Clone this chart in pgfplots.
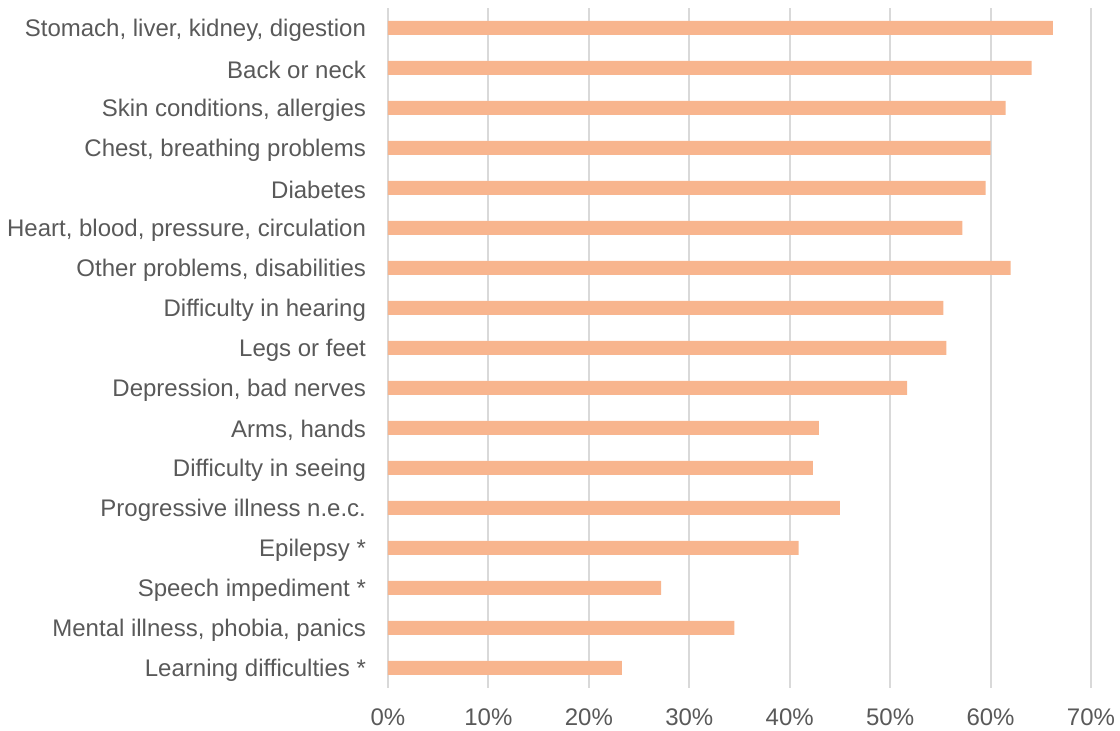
\documentclass[border=0pt]{standalone}
\usepackage{fontspec}
\setmainfont{Liberation Sans}
\usepackage{pgfplots}
\pgfplotsset{compat=1.18}
\definecolor{barfill}{HTML}{F8B58E}
\definecolor{gridgray}{HTML}{D9D9D9}
\definecolor{labelgray}{HTML}{595959}
\begin{document}
\begin{tikzpicture}
\path[use as bounding box] (-194pt,-21.5pt) rectangle (366pt,344pt);
\begin{axis}[
  at={(0,0)}, anchor=south west,
  scale only axis,
  width=351.5pt, height=340pt,
  xbar, bar width=7pt,
  xmin=0, xmax=70,
  ymin=-0.5, ymax=16.5,
  axis line style={draw=none},
  major tick length=0pt,
  xmajorgrids, grid style={gridgray, line width=1pt},
  xtick={0,10,...,70},
  xticklabels={0\%,10\%,20\%,30\%,40\%,50\%,60\%,70\%},
  ytick={0,...,16},
  yticklabels={
    {Learning difficulties *},
    {Mental illness, phobia, panics},
    {Speech impediment *},
    {Epilepsy *},
    {Progressive illness n.e.c.},
    {Difficulty in seeing},
    {Arms, hands},
    {Depression, bad nerves},
    {Legs or feet},
    {Difficulty in hearing},
    {Other problems, disabilities},
    {Heart, blood, pressure, circulation},
    {Diabetes},
    {Chest, breathing problems},
    {Skin conditions, allergies},
    {Back or neck},
    {Stomach, liver, kidney, digestion}},
  ticklabel style={font=\fontsize{12}{14}\selectfont, text=labelgray},
  xticklabel style={yshift=-7pt},
  yticklabel style={xshift=-7.5pt, yshift=-1pt},
  clip=false,
]
\addplot[fill=barfill, draw=none] coordinates {
  (23.3,0)
  (34.5,1)
  (27.2,2)
  (40.9,3)
  (45.0,4)
  (42.3,5)
  (42.9,6)
  (51.7,7)
  (55.6,8)
  (55.3,9)
  (62.0,10)
  (57.2,11)
  (59.5,12)
  (60.0,13)
  (61.5,14)
  (64.1,15)
  (66.2,16)
};
\end{axis}
\end{tikzpicture}
\end{document}
